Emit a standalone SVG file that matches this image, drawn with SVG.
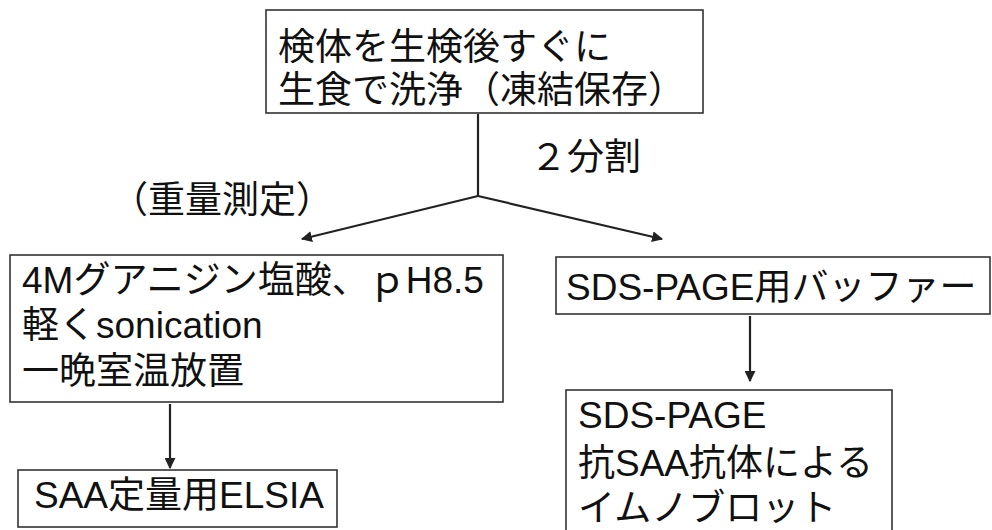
<svg xmlns="http://www.w3.org/2000/svg" width="992" height="530" viewBox="0 0 992 530">
<style>
.box{fill:#fff;stroke:#333;stroke-width:1.6}
.t{font-family:"Liberation Sans","Noto Sans CJK JP",sans-serif;font-size:37px;fill:#111}
.c{stroke:#222;stroke-width:2.2;fill:none}
</style>
<defs>
<marker id="ah" viewBox="0 0 10 10" refX="9" refY="5" markerWidth="5" markerHeight="5" orient="auto" markerUnits="strokeWidth">
<path d="M0,0 L10,5 L0,10 z" fill="#222"/>
</marker>
</defs>
<rect width="992" height="530" fill="#fff"/>
<g id="connectors">
<polyline class="c" points="478,114 478,196"/>
<line class="c" x1="478" y1="196" x2="302" y2="239" marker-end="url(#ah)"/>
<line class="c" x1="478" y1="196" x2="662" y2="239" marker-end="url(#ah)"/>
<line class="c" x1="170" y1="404" x2="170" y2="468" marker-end="url(#ah)"/>
<line class="c" x1="750" y1="316" x2="750" y2="381" marker-end="url(#ah)"/>
</g>
<g id="label-split">
<text class="t" x="530" y="170">２分割</text>
</g>
<g id="label-weight">
<text class="t" x="111" y="213">（重量測定）</text>
</g>
<g id="node-top">
<rect class="box" x="266" y="10" width="437" height="103"/>
<text class="t" x="278" y="60">検体を生検後すぐに</text>
<text class="t" x="278" y="103">生食で洗浄（凍結保存）</text>
</g>
<g id="node-guanidine">
<rect class="box" x="10" y="255" width="493" height="147"/>
<text class="t" x="22" y="293">4Mグアニジン塩酸、ｐH8.5</text>
<text class="t" x="22" y="338">軽くsonication</text>
<text class="t" x="22" y="384">一晩室温放置</text>
</g>
<g id="node-sds-buffer">
<rect class="box" x="556" y="257" width="434" height="57"/>
<text class="t" x="566" y="300">SDS-PAGE用バッファー</text>
</g>
<g id="node-elisa">
<rect class="box" x="18" y="470" width="319" height="57"/>
<text class="t" x="34" y="508">SAA定量用ELSIA</text>
</g>
<g id="node-immunoblot">
<rect class="box" x="566" y="390" width="326" height="145"/>
<text class="t" x="578" y="428">SDS-PAGE</text>
<text class="t" x="578" y="476">抗SAA抗体による</text>
<text class="t" x="578" y="521">イムノブロット</text>
</g>
</svg>
